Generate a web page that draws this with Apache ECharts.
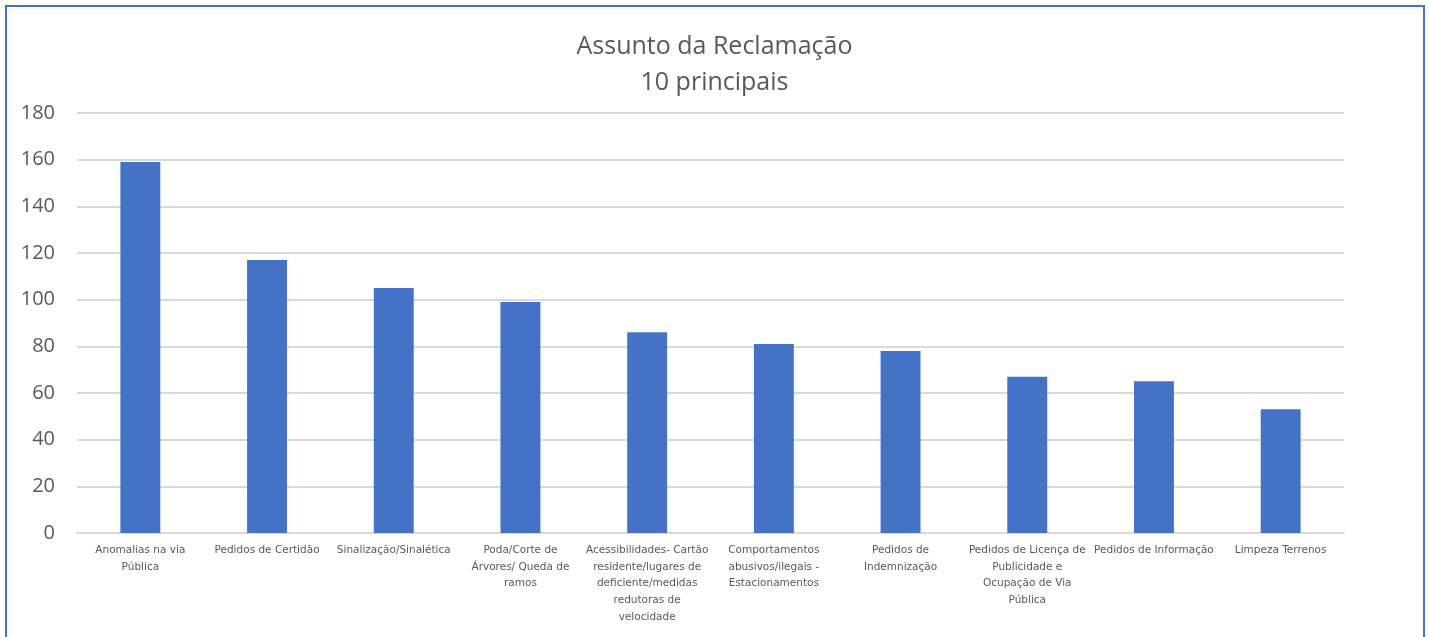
<!DOCTYPE html>
<html>
<head>
<meta charset="utf-8">
<script src="https://cdn.jsdelivr.net/npm/echarts@6/dist/echarts.min.js"></script>
<style>
  html, body { margin: 0; padding: 0; background: #fff; overflow: hidden; }
  #frame { position: absolute; left: 5px; top: 5px; width: 1420px; height: 700px; border: 2px solid #4472C4; box-sizing: border-box; }
  #myChart { position: absolute; left: 0; top: 0; width: 1429px; height: 637px; }
</style>
</head>
<body>
<div id="frame"></div>
<div id="myChart"></div>
<script>
// dados (quebras de linha como no rótulo original)
const categorias = [
  'Anomalias na via\nPública',
  'Pedidos de Certidão',
  'Sinalização/Sinalética',
  'Poda/Corte de\nÁrvores/ Queda de\nramos',
  'Acessibilidades- Cartão\nresidente/lugares de\ndeficiente/medidas\nredutoras de\nvelocidade',
  'Comportamentos\nabusivos/ilegais -\nEstacionamentos',
  'Pedidos de\nIndemnização',
  'Pedidos de Licença de\nPublicidade e\nOcupação de Via\nPública',
  'Pedidos de Informação',
  'Limpeza Terrenos'
]
const valores = [159, 117, 105, 99, 86, 81, 78, 67, 65, 53]
const yTicks = [0, 20, 40, 60, 80, 100, 120, 140, 160, 180]

let myChart = echarts.init(document.getElementById('myChart'))
myChart.setOption({
  animation: false,
  title: {
    left: 'center',
    top: 24,
    text: 'Assunto da Reclamação\n10 principais',
    textStyle: {
      color: '#595959',
      fontSize: 25,
      fontWeight: 'normal',
      fontFamily: 'Open Sans',
      lineHeight: 36
    }
  },
  grid: { left: 77, right: 85, top: 113, bottom: 104 },
  xAxis: {
    type: 'category',
    data: categorias,
    axisLine: { lineStyle: { color: '#D9D9D9', width: 2 } },
    axisTick: { show: false },
    axisLabel: {
      interval: 0,
      color: '#595959',
      fontSize: 10.5,
      fontFamily: 'DejaVu Sans',
      lineHeight: 16.7,
      margin: 9
    }
  },
  yAxis: {
    type: 'value',
    min: yTicks[0],
    max: yTicks[yTicks.length - 1],
    interval: 20,
    axisLine: { show: false },
    axisTick: { show: false },
    axisLabel: {
      color: '#595959',
      fontSize: 20,
      fontFamily: 'Open Sans',
      margin: 22
    },
    splitLine: { lineStyle: { color: '#D9D9D9', width: 2 } }
  },
  series: [{
    type: 'bar',
    data: valores,
    barWidth: '31.5%',
    itemStyle: { color: '#4472C4' }
  }]
})
</script>
</body>
</html>
